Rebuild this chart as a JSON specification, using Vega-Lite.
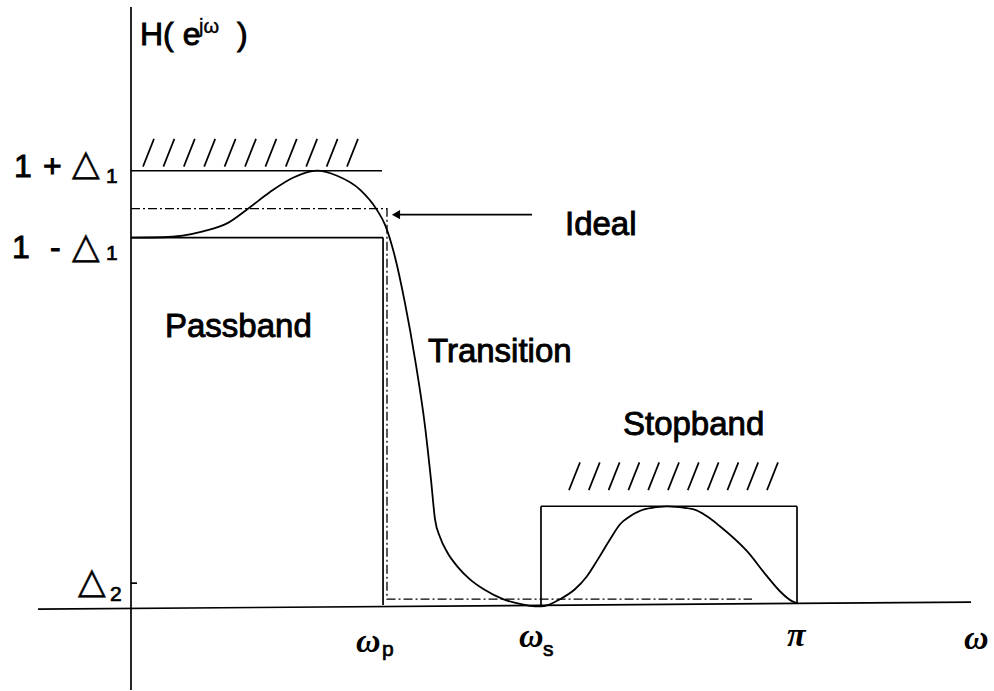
{
  "$schema": "https://vega.github.io/schema/vega-lite/v6.json",
  "width": 994,
  "height": 691,
  "autosize": {"type": "fit", "contains": "padding"},
  "padding": 0,
  "background": "white",
  "config": {"view": {"stroke": null}},
  "datasets": {
    "solid": [
      {"part": "y axis", "x": 0, "y": -0.2141, "x2": 0, "y2": 1.5088},
      {"part": "x axis", "x": -0.4387, "y": -0.0101, "x2": 3.9624, "y2": 0.0076},
      {"part": "1+d1 line", "x": 0, "y": 1.0957, "x2": 1.184, "y2": 1.0957},
      {"part": "passband top", "x": 0, "y": 0.927, "x2": 1.189, "y2": 0.927},
      {"part": "passband right", "x": 1.189, "y": 0.927, "x2": 1.189, "y2": 0},
      {"part": "stopband left", "x": 1.934, "y": 0, "x2": 1.934, "y2": 0.2494},
      {"part": "stopband top", "x": 1.934, "y": 0.2494, "x2": 3.1416, "y2": 0.2494},
      {"part": "stopband right", "x": 3.1416, "y": 0.2494, "x2": 3.1416, "y2": 0.005},
      {"part": "d2 tick", "x": 0, "y": 0.0554, "x2": 0.0283, "y2": 0.0554},
      {"part": "arrow", "x": 1.25, "y": 0.985, "x2": 1.8916, "y2": 0.985}
    ],
    "hatch": [
      {"x": 0.0566, "y": 1.106, "x2": 0.1085, "y2": 1.176},
      {"x": 0.1528, "y": 1.106, "x2": 0.2047, "y2": 1.176},
      {"x": 0.2491, "y": 1.106, "x2": 0.301, "y2": 1.176},
      {"x": 0.3453, "y": 1.106, "x2": 0.3972, "y2": 1.176},
      {"x": 0.4415, "y": 1.106, "x2": 0.4934, "y2": 1.176},
      {"x": 0.5378, "y": 1.106, "x2": 0.5897, "y2": 1.176},
      {"x": 0.634, "y": 1.106, "x2": 0.6859, "y2": 1.176},
      {"x": 0.7302, "y": 1.106, "x2": 0.7821, "y2": 1.176},
      {"x": 0.8264, "y": 1.106, "x2": 0.8783, "y2": 1.176},
      {"x": 0.9227, "y": 1.106, "x2": 0.9746, "y2": 1.176},
      {"x": 1.0189, "y": 1.106, "x2": 1.0708, "y2": 1.176},
      {"x": 2.0661, "y": 0.29, "x2": 2.118, "y2": 0.36},
      {"x": 2.1595, "y": 0.29, "x2": 2.2114, "y2": 0.36},
      {"x": 2.2529, "y": 0.29, "x2": 2.3048, "y2": 0.36},
      {"x": 2.3463, "y": 0.29, "x2": 2.3982, "y2": 0.36},
      {"x": 2.4397, "y": 0.29, "x2": 2.4916, "y2": 0.36},
      {"x": 2.5331, "y": 0.29, "x2": 2.585, "y2": 0.36},
      {"x": 2.6265, "y": 0.29, "x2": 2.6784, "y2": 0.36},
      {"x": 2.7199, "y": 0.29, "x2": 2.7718, "y2": 0.36},
      {"x": 2.8133, "y": 0.29, "x2": 2.8652, "y2": 0.36},
      {"x": 2.9067, "y": 0.29, "x2": 2.9586, "y2": 0.36},
      {"x": 3.0001, "y": 0.29, "x2": 3.052, "y2": 0.36}
    ],
    "ideal": [
      {"i": 0, "x": 0, "y": 1.0},
      {"i": 1, "x": 1.2076, "y": 1.0},
      {"i": 2, "x": 1.2076, "y": 0.0151},
      {"i": 3, "x": 2.9293, "y": 0.0151}
    ],
    "response": [
      {"x": 0, "y": 0.927},
      {"x": 0.151, "y": 0.928},
      {"x": 0.34, "y": 0.943},
      {"x": 0.453, "y": 0.963},
      {"x": 0.552, "y": 1.0},
      {"x": 0.656, "y": 1.042},
      {"x": 0.764, "y": 1.078},
      {"x": 0.877, "y": 1.096},
      {"x": 0.972, "y": 1.083},
      {"x": 1.08, "y": 1.048},
      {"x": 1.16, "y": 0.997},
      {"x": 1.198, "y": 0.96},
      {"x": 1.245, "y": 0.879},
      {"x": 1.292, "y": 0.763},
      {"x": 1.34, "y": 0.62},
      {"x": 1.387, "y": 0.451},
      {"x": 1.415, "y": 0.317},
      {"x": 1.434, "y": 0.217},
      {"x": 1.458, "y": 0.171},
      {"x": 1.491, "y": 0.134},
      {"x": 1.542, "y": 0.096},
      {"x": 1.599, "y": 0.065},
      {"x": 1.67, "y": 0.038},
      {"x": 1.755, "y": 0.015},
      {"x": 1.835, "y": 0.003},
      {"x": 1.906, "y": -0.003},
      {"x": 1.934, "y": -0.003},
      {"x": 1.967, "y": 0.0},
      {"x": 2.024, "y": 0.015},
      {"x": 2.094, "y": 0.04},
      {"x": 2.151, "y": 0.073},
      {"x": 2.203, "y": 0.116},
      {"x": 2.26, "y": 0.166},
      {"x": 2.307, "y": 0.204},
      {"x": 2.354, "y": 0.224},
      {"x": 2.425, "y": 0.242},
      {"x": 2.528, "y": 0.249},
      {"x": 2.651, "y": 0.242},
      {"x": 2.717, "y": 0.224},
      {"x": 2.778, "y": 0.199},
      {"x": 2.906, "y": 0.136},
      {"x": 3.0, "y": 0.073},
      {"x": 3.061, "y": 0.035},
      {"x": 3.118, "y": 0.01},
      {"x": 3.142, "y": 0.005}
    ],
    "arrowhead": [{"x": 1.25, "y": 0.985}],
    "bigtext": [
      {"t": "Passband", "x": 0.1604, "y": 0.6751},
      {"t": "Transition", "x": 1.401, "y": 0.6121},
      {"t": "Stopband", "x": 2.3208, "y": 0.4282},
      {"t": "Ideal", "x": 2.0472, "y": 0.9345}
    ],
    "title": [
      {"t": "H( e", "x": 0.0425, "y": 1.4131},
      {"t": ")", "x": 0.5, "y": 1.4131},
      {"t": "1", "x": -0.5519, "y": 1.0806},
      {"t": "+", "x": -0.4151, "y": 1.0806},
      {"t": "1", "x": -0.5613, "y": 0.8766},
      {"t": "-", "x": -0.3821, "y": 0.8766}
    ],
    "sup": [
      {"t": "jω", "x": 0.3208, "y": 1.4433}
    ],
    "tri": [
      {"t": "△", "x": -0.2783, "y": 1.0856},
      {"t": "△", "x": -0.2783, "y": 0.8766},
      {"t": "△", "x": -0.25, "y": 0.0302}
    ],
    "sub": [
      {"t": "1", "x": -0.1179, "y": 1.0655},
      {"t": "1", "x": -0.1179, "y": 0.8715},
      {"t": "2", "x": -0.0991, "y": 0.0101},
      {"t": "p", "x": 1.184, "y": -0.1285},
      {"t": "s", "x": 1.9434, "y": -0.1285}
    ],
    "greek": [
      {"t": "ω", "x": 1.0613, "y": -0.1184},
      {"t": "ω", "x": 1.8302, "y": -0.1058},
      {"t": "π", "x": 3.0944, "y": -0.1033},
      {"t": "ω", "x": 3.9293, "y": -0.1108}
    ]
  },
  "encoding": {
    "x": {"field": "x", "type": "quantitative", "axis": null, "scale": {"domain": [-0.6179, 4.0709], "nice": false, "zero": false}},
    "y": {"field": "y", "type": "quantitative", "axis": null, "scale": {"domain": [-0.2141, 1.5264], "nice": false, "zero": false}}
  },
  "layer": [
    {
      "data": {"name": "solid"},
      "mark": {"type": "rule", "color": "black", "strokeWidth": 1.7},
      "encoding": {"x2": {"field": "x2"}, "y2": {"field": "y2"}}
    },
    {
      "data": {"name": "hatch"},
      "mark": {"type": "rule", "color": "black", "strokeWidth": 1.7},
      "encoding": {"x2": {"field": "x2"}, "y2": {"field": "y2"}}
    },
    {
      "data": {"name": "ideal"},
      "mark": {"type": "line", "color": "black", "strokeWidth": 1.3, "strokeDash": [9, 3, 2, 3]},
      "encoding": {"order": {"field": "i"}}
    },
    {
      "data": {"name": "response"},
      "mark": {"type": "line", "color": "black", "strokeWidth": 1.8, "interpolate": "monotone"},
      "encoding": {}
    },
    {
      "data": {"name": "arrowhead"},
      "mark": {"type": "point", "shape": "triangle-left", "filled": true, "color": "black", "size": 90, "opacity": 1}
    },
    {
      "data": {"name": "bigtext"},
      "mark": {"type": "text", "font": "Liberation Sans", "fontSize": 33, "align": "left", "baseline": "alphabetic", "color": "black", "stroke": "black", "strokeWidth": 0.9},
      "encoding": {"text": {"field": "t"}}
    },
    {
      "data": {"name": "title"},
      "mark": {"type": "text", "font": "Liberation Sans", "fontSize": 32, "align": "left", "baseline": "alphabetic", "color": "black", "stroke": "black", "strokeWidth": 0.9},
      "encoding": {"text": {"field": "t"}}
    },
    {
      "data": {"name": "sup"},
      "mark": {"type": "text", "font": "Liberation Sans", "fontSize": 20, "align": "left", "baseline": "alphabetic", "color": "black", "stroke": "black", "strokeWidth": 0.4},
      "encoding": {"text": {"field": "t"}}
    },
    {
      "data": {"name": "tri"},
      "mark": {"type": "text", "font": "DejaVu Sans", "fontSize": 36, "align": "left", "baseline": "alphabetic", "color": "black", "stroke": "black", "strokeWidth": 0.5},
      "encoding": {"text": {"field": "t"}}
    },
    {
      "data": {"name": "sub"},
      "mark": {"type": "text", "font": "Liberation Sans", "fontSize": 21, "align": "left", "baseline": "alphabetic", "color": "black", "stroke": "black", "strokeWidth": 0.7},
      "encoding": {"text": {"field": "t"}}
    },
    {
      "data": {"name": "greek"},
      "mark": {"type": "text", "font": "Liberation Serif", "fontSize": 34, "fontStyle": "italic", "fontWeight": "bold", "align": "left", "baseline": "alphabetic", "color": "black"},
      "encoding": {"text": {"field": "t"}}
    }
  ]
}
